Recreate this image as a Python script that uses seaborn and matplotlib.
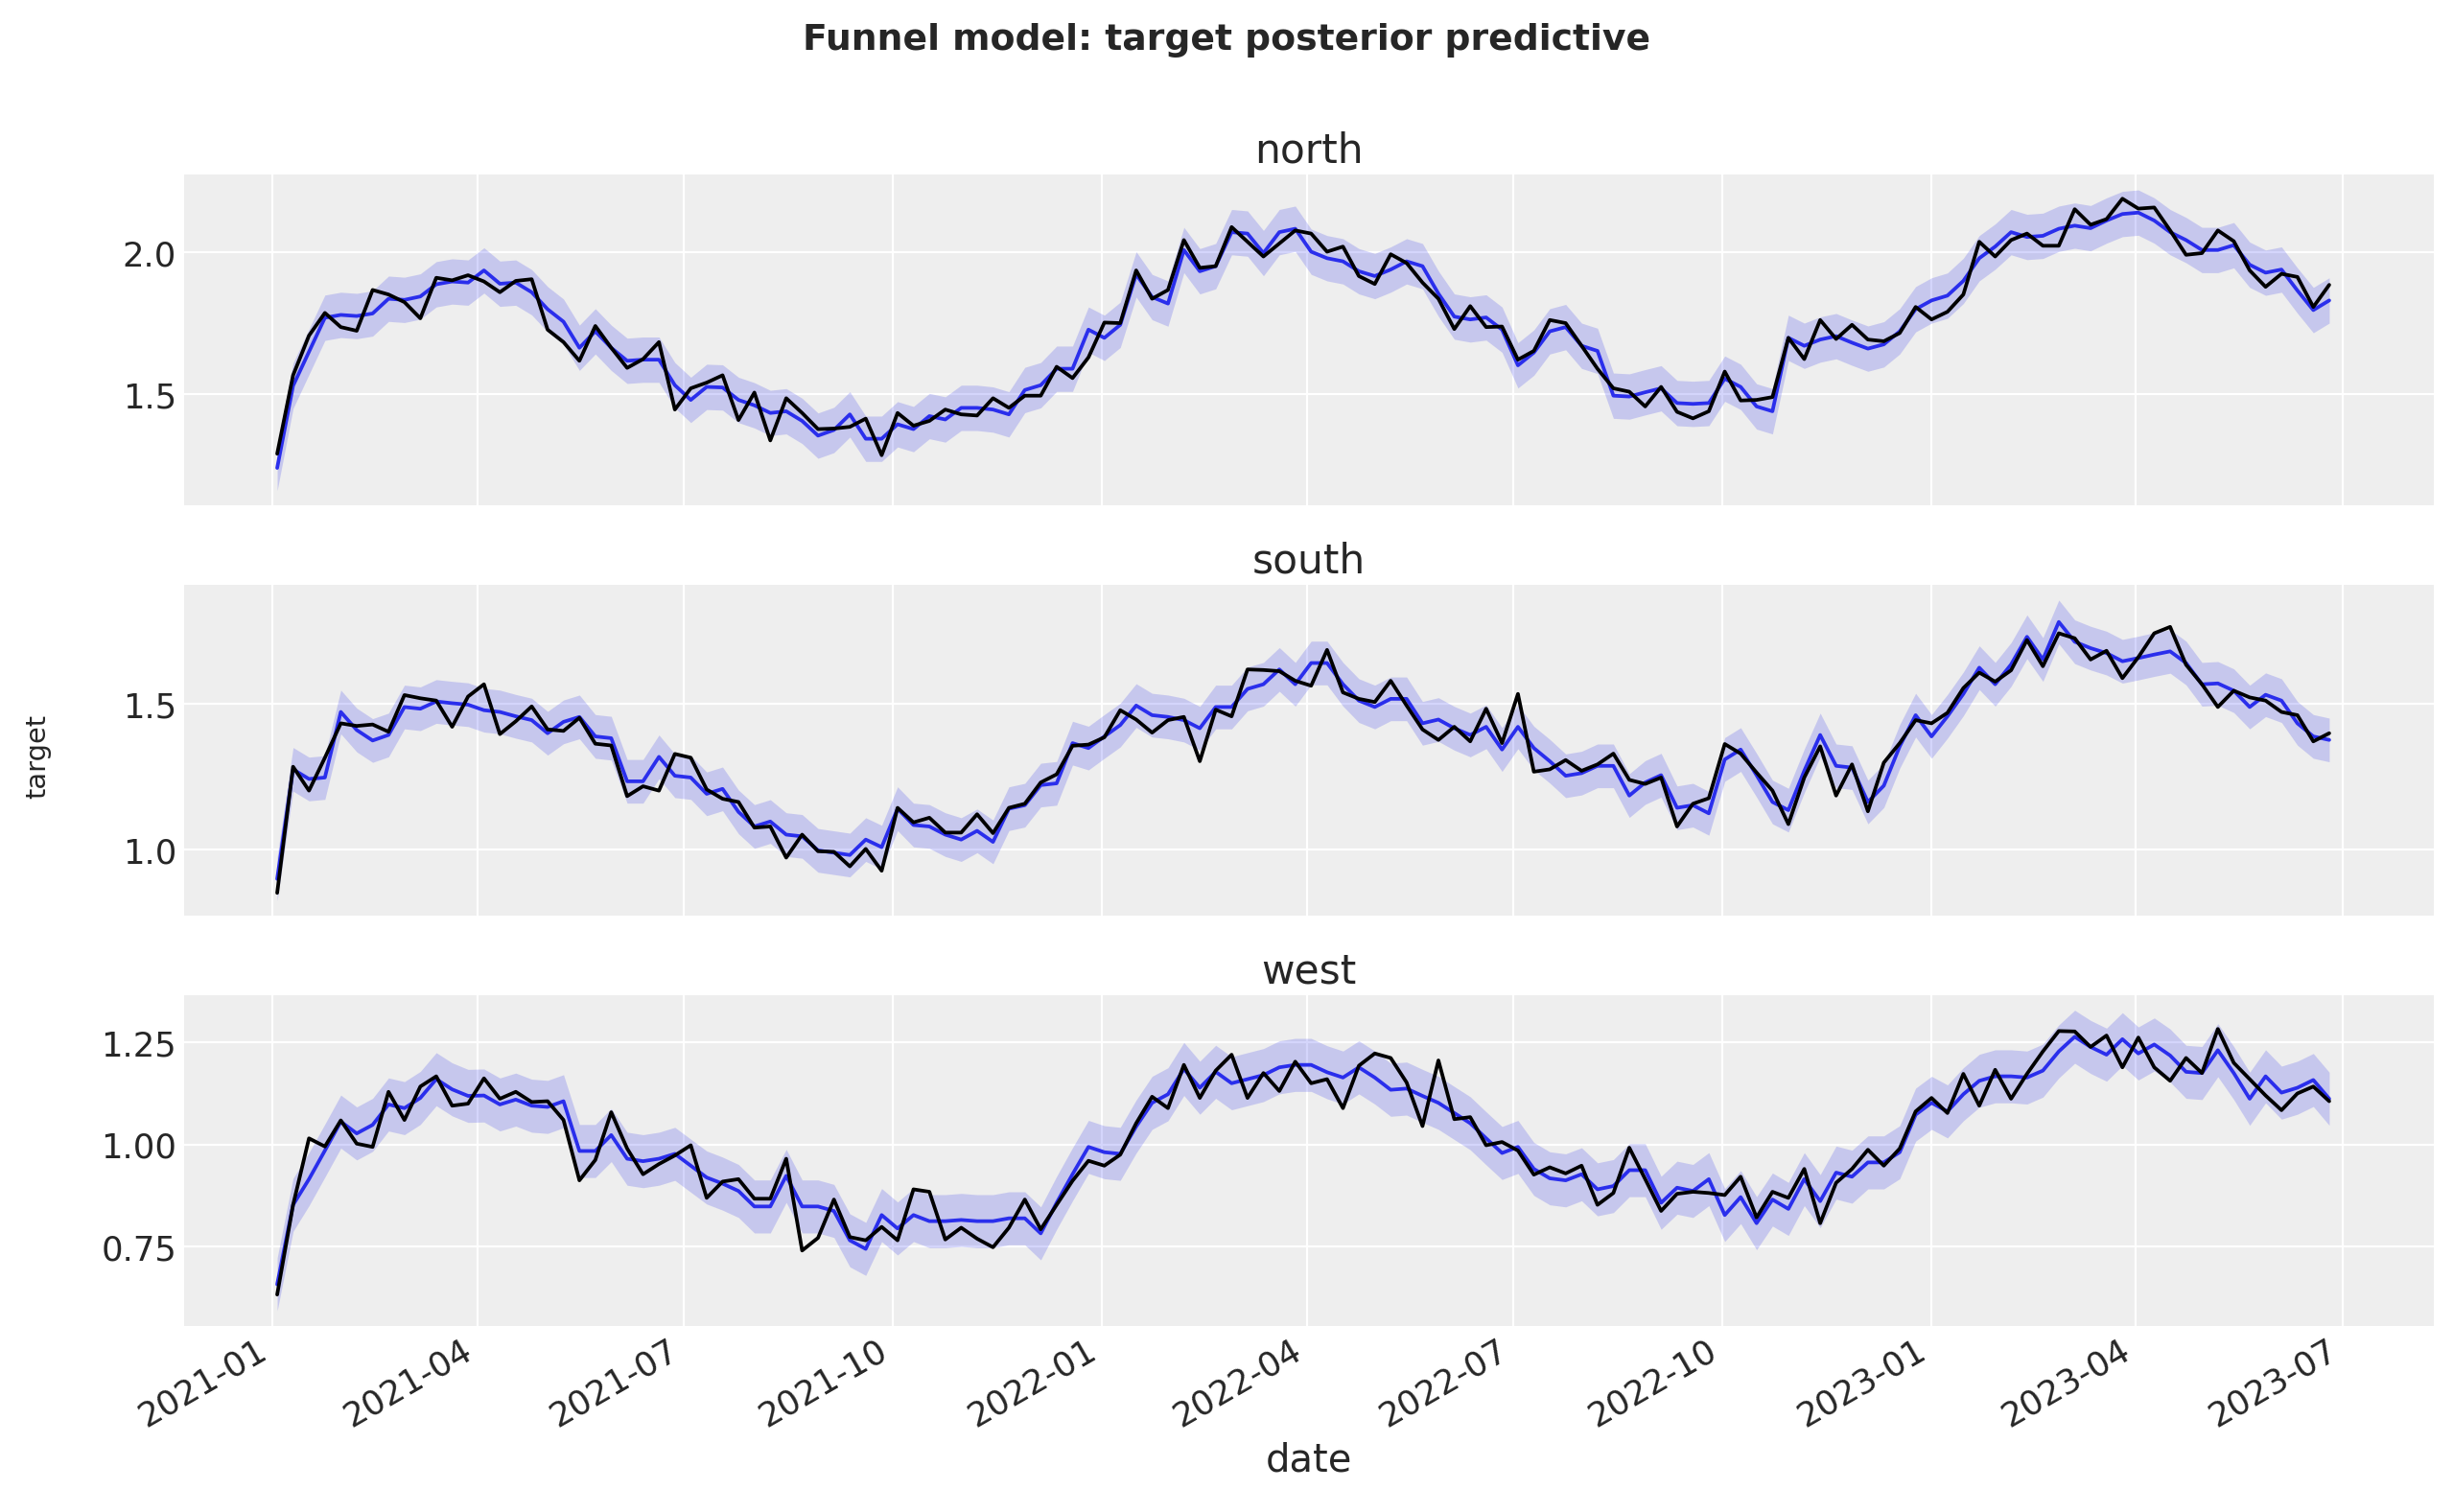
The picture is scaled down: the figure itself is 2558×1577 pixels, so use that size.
import numpy as np
import pandas as pd
import matplotlib
matplotlib.use("Agg")
import matplotlib.pyplot as plt
import matplotlib.dates as mdates
import seaborn as sns

dates = pd.date_range("2021-01-03", periods=130, freq="W-SUN")
regions = ["north", "south", "west"]

north_obs = [1.29,1.567,1.707,1.787,1.737,1.724,1.868,1.852,1.825,1.768,1.911,1.902,1.92,1.898,1.86,1.90,1.906,1.728,1.684,1.618,
 1.741,1.664,1.593,1.624,1.684,1.446,1.521,1.541,1.567,1.409,1.506,1.337,1.486,1.434,1.377,1.379,1.385,1.414,1.285,1.434,
 1.389,1.406,1.446,1.429,1.425,1.486,1.452,1.495,1.495,1.597,1.557,1.630,1.753,1.751,1.937,1.837,1.868,2.044,1.946,1.952,
 2.09,2.038,1.986,2.032,2.078,2.067,2.003,2.021,1.917,1.889,1.994,1.963,1.894,1.837,1.730,1.811,1.737,1.739,1.622,1.653,
 1.762,1.751,1.671,1.590,1.521,1.509,1.457,1.526,1.438,1.415,1.440,1.580,1.478,1.480,1.490,1.699,1.624,1.762,1.695,1.745,
 1.693,1.687,1.716,1.808,1.764,1.791,1.852,2.038,1.986,2.044,2.067,2.024,2.024,2.153,2.098,2.118,2.19,2.155,2.159,2.078,
 1.992,1.998,2.078,2.040,1.937,1.879,1.925,1.914,1.808,1.886]
north_mean = [1.24,1.53,1.65,1.77,1.78,1.776,1.785,1.837,1.833,1.845,1.888,1.898,1.894,1.937,1.89,1.894,1.86,1.80,1.756,1.664,
 1.722,1.664,1.618,1.622,1.622,1.532,1.480,1.526,1.524,1.48,1.461,1.434,1.44,1.406,1.354,1.374,1.429,1.343,1.343,1.394,
 1.377,1.423,1.411,1.452,1.452,1.446,1.429,1.515,1.532,1.590,1.590,1.728,1.699,1.745,1.923,1.843,1.820,2.009,1.934,1.952,
 2.072,2.067,1.998,2.072,2.084,2.003,1.98,1.969,1.934,1.917,1.94,1.969,1.952,1.855,1.774,1.764,1.771,1.728,1.602,1.647,
 1.722,1.737,1.671,1.653,1.495,1.492,1.507,1.521,1.469,1.466,1.469,1.555,1.526,1.457,1.44,1.699,1.671,1.693,1.705,1.682,
 1.661,1.676,1.722,1.80,1.831,1.848,1.90,1.98,2.021,2.072,2.055,2.059,2.084,2.095,2.086,2.113,2.136,2.141,2.113,2.072,
 2.044,2.009,2.009,2.026,1.957,1.929,1.94,1.866,1.797,1.831]

south_obs = [0.851,1.284,1.202,1.315,1.433,1.424,1.429,1.404,1.530,1.519,1.511,1.421,1.525,1.567,1.396,1.44,1.491,1.412,1.407,1.452,
 1.363,1.357,1.183,1.217,1.202,1.328,1.315,1.206,1.174,1.163,1.075,1.079,0.972,1.051,0.994,0.992,0.942,1.002,0.927,1.143,
 1.093,1.109,1.058,1.058,1.121,1.056,1.143,1.157,1.230,1.258,1.356,1.360,1.385,1.478,1.446,1.401,1.444,1.455,1.303,1.480,
 1.457,1.618,1.616,1.612,1.579,1.562,1.685,1.539,1.517,1.506,1.579,1.494,1.412,1.376,1.421,1.371,1.483,1.365,1.534,1.267,
 1.275,1.307,1.270,1.292,1.329,1.239,1.225,1.247,1.079,1.157,1.176,1.362,1.329,1.264,1.202,1.087,1.247,1.354,1.185,1.292,
 1.131,1.298,1.365,1.444,1.433,1.469,1.554,1.607,1.576,1.615,1.719,1.629,1.742,1.725,1.652,1.682,1.588,1.660,1.742,1.764,
 1.634,1.567,1.489,1.545,1.522,1.511,1.472,1.461,1.371,1.399]
south_mean = [0.899,1.275,1.242,1.247,1.472,1.41,1.374,1.393,1.489,1.483,1.508,1.502,1.497,1.478,1.472,1.457,1.444,1.399,1.438,1.455,
 1.388,1.382,1.234,1.234,1.318,1.253,1.247,1.191,1.208,1.129,1.079,1.096,1.051,1.045,0.997,0.989,0.981,1.034,1.008,1.14,
 1.084,1.079,1.051,1.034,1.064,1.026,1.14,1.152,1.221,1.227,1.365,1.348,1.388,1.427,1.494,1.461,1.455,1.444,1.416,1.489,
 1.489,1.551,1.567,1.618,1.567,1.640,1.640,1.567,1.511,1.489,1.517,1.517,1.433,1.446,1.416,1.393,1.421,1.343,1.421,1.348,
 1.303,1.253,1.262,1.287,1.287,1.185,1.230,1.255,1.143,1.152,1.124,1.309,1.343,1.255,1.163,1.135,1.270,1.393,1.287,1.281,
 1.163,1.219,1.354,1.461,1.388,1.457,1.534,1.624,1.567,1.635,1.730,1.652,1.781,1.713,1.691,1.674,1.646,1.657,1.669,1.680,
 1.640,1.567,1.570,1.545,1.489,1.531,1.511,1.433,1.388,1.376]

west_obs = [0.632,0.852,1.015,0.995,1.059,1.002,0.994,1.129,1.060,1.142,1.167,1.095,1.100,1.162,1.112,1.129,1.104,1.106,1.060,0.912,
 0.962,1.079,0.990,0.927,0.952,0.973,0.998,0.869,0.909,0.915,0.867,0.867,0.965,0.740,0.771,0.865,0.773,0.765,0.798,0.765,
 0.890,0.884,0.767,0.796,0.769,0.748,0.796,0.865,0.792,0.852,0.911,0.960,0.948,0.975,1.052,1.117,1.089,1.195,1.114,1.181,
 1.220,1.114,1.175,1.131,1.203,1.150,1.160,1.089,1.193,1.223,1.212,1.152,1.045,1.206,1.062,1.067,0.998,1.006,0.985,0.926,
 0.944,0.929,0.948,0.852,0.881,0.992,0.915,0.837,0.879,0.884,0.881,0.876,0.921,0.821,0.884,0.869,0.940,0.807,0.906,0.940,
 0.987,0.948,0.990,1.081,1.114,1.077,1.173,1.095,1.183,1.112,1.173,1.228,1.278,1.277,1.239,1.267,1.189,1.262,1.189,1.156,
 1.212,1.175,1.283,1.200,1.160,1.120,1.084,1.125,1.142,1.106]
west_mean = [0.657,0.852,0.915,0.985,1.056,1.027,1.048,1.098,1.089,1.114,1.160,1.135,1.119,1.120,1.098,1.110,1.095,1.092,1.106,0.984,
 0.984,1.023,0.965,0.959,0.965,0.977,0.948,0.919,0.904,0.886,0.848,0.848,0.923,0.848,0.848,0.837,0.765,0.744,0.827,0.794,
 0.827,0.812,0.812,0.815,0.812,0.812,0.819,0.819,0.782,0.857,0.927,0.994,0.981,0.977,1.044,1.102,1.123,1.185,1.139,1.178,
 1.150,1.160,1.170,1.189,1.195,1.195,1.177,1.164,1.189,1.164,1.134,1.137,1.119,1.102,1.077,1.052,1.015,0.979,0.994,0.940,
 0.917,0.912,0.927,0.890,0.898,0.937,0.937,0.857,0.894,0.886,0.915,0.827,0.871,0.807,0.865,0.842,0.915,0.861,0.931,0.921,
 0.956,0.956,0.981,1.073,1.102,1.081,1.123,1.156,1.167,1.167,1.164,1.181,1.228,1.264,1.239,1.220,1.258,1.223,1.245,1.218,
 1.178,1.175,1.231,1.175,1.112,1.167,1.127,1.139,1.158,1.112]

band_half = {"north": 0.08, "south": 0.075, "west": 0.065}

obs = {"north": north_obs, "south": south_obs, "west": west_obs}
mean = {"north": north_mean, "south": south_mean, "west": west_mean}

sns.set_theme(style="darkgrid", rc={
    "axes.facecolor": "#eeeeee", "figure.facecolor": "white",
    "grid.color": "white", "grid.linewidth": 1.0,
    "axes.edgecolor": "white", "axes.linewidth": 0,
})
plt.rcParams["font.family"] = ["DejaVu Sans"]

blue = "#2a2eec"
fig, axes = plt.subplots(3, 1, figsize=(15.99, 9.86), dpi=160, sharex=True)
for ax, r in zip(axes, regions):
    df = pd.DataFrame({"date": dates, "obs": obs[r], "mean": mean[r]})
    m = np.array(mean[r])
    ax.fill_between(df["date"], m - band_half[r], m + band_half[r], color=blue, alpha=0.2, lw=0)
    sns.lineplot(data=df, x="date", y="mean", ax=ax, color=blue, lw=1.7)
    sns.lineplot(data=df, x="date", y="obs", ax=ax, color="black", lw=1.7)
    ax.set_title(r, fontsize=19)
    ax.set_ylabel("")
    ax.set_xlabel("")
    ax.tick_params(labelsize=16, length=0)
    for s in ax.spines.values():
        s.set_visible(False)

axes[-1].xaxis.set_major_locator(mdates.MonthLocator(bymonth=[1, 4, 7, 10]))
axes[-1].xaxis.set_major_formatter(mdates.DateFormatter("%Y-%m"))
axes[-1].set_xlim(pd.Timestamp("2020-11-23"), pd.Timestamp("2023-08-10"))
axes[-1].set_xlabel("date", fontsize=18)
for lbl in axes[-1].get_xticklabels():
    lbl.set_rotation(30)
    lbl.set_ha("right")
axes[0].set_yticks([1.5, 2.0])
axes[1].set_yticks([1.0, 1.5])
axes[2].set_yticks([0.75, 1.0, 1.25])

fig.suptitle("Funnel model: target posterior predictive", fontsize=17, fontweight="bold", y=0.985)
fig.supylabel("target", fontsize=13, x=0.01)
fig.subplots_adjust(left=0.075, right=0.992, top=0.884, bottom=0.123, hspace=0.24)
fig.savefig("out.png", dpi=160)
